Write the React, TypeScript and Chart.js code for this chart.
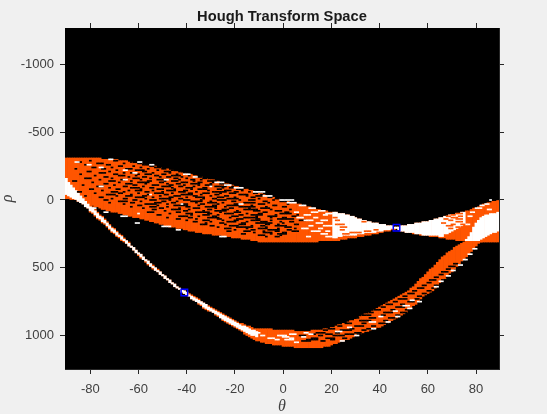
import React, { useEffect, useRef } from "react";
import { Chart, registerables } from "chart.js";

Chart.register(...registerables);

const xTickValues = [-80, -60, -40, -20, 0, 20, 40, 60, 80];
const yTickValues = [-1000, -500, 0, 500, 1000];
const thetaStart = -90;

// Upper band edges, one value per theta column from -90 to 89
const upperTop = [
  -310,-310,-310,-310,-310,-310,-310,-310,-310,-310,
  -310,-310,-310,-310,-310,-300,-300,-300,-300,-300,
  -300,-300,-290,-290,-290,-290,-280,-280,-270,-270,
  -270,-270,-260,-260,-260,-250,-250,-250,-240,-240,
  -230,-230,-230,-220,-220,-210,-210,-210,-200,-200,
  -200,-190,-190,-180,-180,-170,-170,-160,-160,-150,
  -150,-150,-140,-140,-130,-130,-120,-120,-110,-110,
  -100,-100,-90,-90,-80,-80,-70,-70,-60,-60,
  -50,-50,-40,-30,-30,-20,-20,-10,-10,0,
  0,10,10,20,20,20,30,30,40,40,
  50,50,60,60,70,70,80,80,80,90,
  90,90,90,100,100,100,110,110,120,120,
  130,140,140,150,150,160,160,170,170,170,
  180,180,180,190,190,190,200,200,
  200,190,190,190,180,180,180,
  170,170,170,160,160,160,150,
  150,140,140,130,130,120,120,
  110,110,110,100,100,90,90,
  80,80,70,60,60,50,40,
  30,30,20,20,10,10,0,
];
const upperBottom = [
  -10,-10,0,0,0,10,10,20,20,30,
  40,40,50,50,60,70,70,80,80,90,
  90,90,100,100,110,110,120,120,130,130,
  130,140,140,150,150,160,160,170,170,180,
  180,190,190,200,200,200,210,210,210,220,
  220,230,230,230,240,240,240,250,250,250,
  250,260,260,260,260,270,270,270,270,280,
  280,280,280,290,290,290,290,300,300,300,
  310,310,310,310,310,310,310,310,310,310,
  310,310,310,310,310,310,310,310,310,310,
  310,310,310,310,310,300,300,300,300,300,
  300,300,300,300,290,290,290,280,280,280,
  280,270,270,270,260,260,260,250,250,250,
  240,240,230,230,230,220,220,210,
  220,230,230,240,240,240,250,
  250,250,260,260,260,260,270,
  270,270,270,280,280,280,290,
  290,290,290,300,300,300,300,
  310,310,310,310,310,310,310,
  310,310,310,310,310,310,310,
];
// Lower band edges, theta -90 to 89
const lowerTop = [
  -160,-130,-110,-90,-70,-50,-30,-10,10,30,
  40,50,70,90,110,120,140,160,180,200,
  210,230,250,260,280,300,310,340,350,370,
  390,400,420,440,450,470,480,500,510,530,
  550,560,580,590,610,620,640,650,660,670,
  680,690,700,710,720,730,750,760,770,780,
  790,800,810,820,830,840,850,860,870,880,
  890,900,910,910,920,930,930,940,950,950,
  950,950,950,950,950,950,960,960,960,960,
  960,960,960,960,960,970,970,970,970,970,
  970,970,960,960,960,960,960,950,950,950,
  940,940,930,920,920,910,910,900,890,890,
  880,870,860,850,840,840,830,820,810,800,
  790,780,770,760,750,740,730,720,710,700,
  690,680,670,650,640,620,600,580,570,550,
  530,510,500,480,460,440,420,410,390,380,
  370,350,340,330,320,310,300,290,270,240,
  210,190,180,170,160,150,130,120,100,90,
];
const lowerBottom = [
  -40,-30,-20,-10,0,10,20,30,50,60,
  90,100,120,140,150,170,180,200,220,240,
  250,270,280,300,310,320,340,350,370,390,
  410,430,440,460,480,490,510,520,530,550,
  560,580,590,610,620,640,650,660,680,690,
  700,710,730,740,750,770,780,800,810,820,
  820,830,850,860,870,890,900,910,920,930,
  940,950,960,970,990,1000,1010,1020,1030,1040,
  1040,1050,1050,1060,1060,1060,1070,1070,1070,1070,
  1080,1080,1080,1080,1080,1090,1090,1090,1090,1090,
  1090,1090,1090,1090,1090,1090,1090,1080,1080,1080,
  1070,1060,1060,1050,1040,1040,1030,1030,1020,1010,
  1000,1000,990,980,970,970,960,950,950,940,
  940,930,920,910,900,890,880,870,860,850,
  840,830,810,800,780,770,750,730,710,700,
  690,680,670,650,630,610,590,580,560,540,
  530,510,490,470,450,440,420,400,380,360,
  340,320,310,300,290,280,260,250,240,230,
];
// White core of the thin left arm, theta -90 to -11
const armTop = [
  -160,-130,-110,-90,-70,-50,-30,-10,10,30,
  50,60,80,100,120,130,150,170,190,210,
  220,240,260,270,290,300,320,340,350,370,
  390,400,420,440,450,470,490,500,520,530,
  550,560,580,590,610,620,640,650,660,670,
  680,700,710,720,730,740,750,760,770,790,
  800,810,820,830,840,850,860,870,880,890,
  900,910,920,930,930,940,950,960,960,970,
];
const armBottom = [
  -40,-30,-20,-10,0,10,20,30,50,60,
  80,90,110,130,140,160,170,190,210,230,
  240,260,270,290,300,320,340,350,370,390,
  400,420,440,450,470,490,500,520,530,550,
  560,580,590,610,620,640,650,660,680,690,
  700,710,730,740,750,760,770,790,800,810,
  820,830,840,850,870,880,890,900,910,920,
  930,940,950,960,970,980,990,1000,1000,1010,
];
// White wedge around the crossing, theta 21 to 75
const wedgeStart = 21;
const wedgeTop = [
  90,90,100,100,100,110,110,120,120,
  130,140,140,150,150,160,160,170,170,170,
  180,180,180,190,190,190,200,200,
  200,190,190,190,180,180,180,170,170,170,160,160,160,150,
  150,140,140,130,130,120,120,110,110,110,100,100,90,90,
];
const wedgeBottom = [
  280,280,270,270,260,260,260,260,260,
  260,250,250,250,240,240,240,240,240,230,
  230,230,220,220,220,210,210,210,
  220,230,230,240,240,240,240,250,250,250,260,260,260,260,
  260,260,260,270,270,250,250,240,230,220,210,200,190,180,
];
// White diagonal at the far right, theta 76 to 89
const diagStart = 76;
const diagTop = [290,270,240,200,170,150,130,120,110,110,100,100,100,90];
const diagBottom = [300,300,300,300,300,300,290,280,270,260,250,240,240,230];

// Speckle rows: rho, then (theta start, column count) pairs
const blackRows: number[][] = [
  [-290,-80,1,-70,2],[-280,-85,2,-63,1],[-270,-77,3,-66,1,-60,2],[-260,-82,1,-73,2,-58,3,-52,1],
  [-250,-68,2,-62,1,-55,2],[-240,-79,2,-71,1,-59,1,-53,3,-47,1],[-230,-86,1,-75,2,-65,3,-56,1,-50,2],
  [-220,-69,1,-61,4,-52,1,-46,2,-42,1],[-210,-81,2,-72,1,-58,2,-49,3,-43,1],
  [-200,-76,3,-66,1,-63,2,-54,1,-47,1,-41,3],[-190,-84,1,-70,2,-60,1,-57,3,-50,2,-44,1,-37,2],
  [-180,-78,1,-68,3,-61,1,-53,2,-46,4,-39,1,-35,1],[-170,-74,2,-64,1,-58,2,-51,1,-48,2,-42,1,-36,3,-31,1],
  [-160,-82,3,-71,1,-62,3,-55,1,-45,2,-40,1,-33,2,-29,1],[-150,-76,1,-67,2,-59,1,-52,4,-43,1,-38,2,-34,1,-27,2],
  [-140,-87,2,-72,3,-63,1,-56,2,-49,1,-46,3,-37,1,-31,4,-25,1],[-130,-79,1,-68,1,-60,5,-51,2,-42,3,-35,2,-29,1,-23,2],
  [-120,-74,2,-65,3,-57,1,-48,1,-44,2,-38,4,-30,1,-26,2,-20,1],[-110,-83,1,-70,1,-62,2,-54,3,-47,2,-41,1,-35,1,-32,3,-24,2,-18,1],
  [-100,-77,3,-66,2,-58,1,-50,4,-43,2,-37,1,-28,5,-21,1],[-90,-72,1,-63,4,-55,2,-46,1,-40,3,-33,2,-25,1,-22,2,-16,1],
  [-80,-80,2,-69,2,-59,1,-52,3,-45,1,-38,1,-35,4,-27,2,-19,3,-13,1],[-70,-75,1,-64,1,-61,3,-54,1,-48,4,-41,2,-31,1,-24,3,-17,1,-11,2],
  [-60,-85,2,-71,3,-66,1,-57,2,-50,1,-43,3,-36,1,-29,6,-20,2,-14,1],[-50,-78,1,-68,2,-60,1,-53,4,-46,1,-39,2,-33,3,-26,1,-22,3,-12,2,-7,1],
  [-40,-73,4,-63,1,-56,1,-49,2,-42,5,-34,1,-28,2,-18,4,-9,1],[-30,-82,1,-69,1,-65,3,-58,2,-51,1,-45,3,-37,2,-30,1,-24,2,-15,1,-11,3,-5,1],
  [-20,-76,2,-61,4,-54,1,-47,2,-40,1,-36,4,-27,3,-20,1,-13,2,-6,2],[-10,-71,1,-66,2,-57,1,-51,5,-43,2,-33,1,-29,2,-23,5,-10,1,-3,2],
  [0,-74,2,-62,2,-55,3,-47,1,-41,3,-34,1,-27,4,-18,1,-14,3,-4,1],[10,-68,4,-59,1,-50,2,-44,1,-38,5,-30,1,-21,2,-8,2,-1,3],
  [20,-72,1,-63,2,-53,3,-46,2,-36,1,-31,4,-25,1,-16,5,-6,1],[30,-66,1,-57,5,-48,1,-42,3,-34,2,-27,1,-20,3,-10,3,2,1],
  [40,-60,2,-52,1,-45,6,-35,1,-29,2,-23,5,-13,1,-4,2],[50,-63,1,-55,3,-48,1,-40,2,-32,5,-24,1,-18,7,-7,1,0,2],
  [60,-58,1,-51,2,-43,1,-37,3,-28,1,-22,2,-14,1,-9,4],[70,-54,2,-46,4,-39,1,-31,2,-25,3,-16,6,-5,1,3,1],
  [80,-49,1,-41,2,-33,1,-28,5,-19,1,-12,3,-3,3],[90,-56,3,-44,2,-36,6,-26,1,-20,3,-8,2,1,2],
  [100,-47,1,-40,3,-31,2,-24,4,-15,1,-10,2,-1,5],[110,-52,2,-38,1,-33,3,-27,1,-18,2,-13,5,-3,1,6,1],
  [120,-43,4,-35,1,-29,2,-21,3,-11,1,-6,4,4,2],[130,-48,1,-39,2,-31,5,-22,1,-16,6,-5,1,0,2],
  [140,-44,2,-36,1,-27,2,-19,3,-11,2,-2,7],[150,-40,1,-33,3,-25,1,-20,2,-13,4,-5,1,7,3],
  [160,-37,2,-30,1,-23,4,-15,1,-9,3,-1,1,3,2],[170,-32,1,-26,2,-17,2,-11,7,0,1],
  [180,-34,3,-24,1,-18,3,-7,2,-2,1,5,2],[190,-30,2,-22,4,-13,1,-9,2,-3,5],[200,-27,1,-19,7,-7,1,1,3],
  [210,-24,3,-15,1,-10,4,-2,1,5,1],[220,-20,1,-13,2,-6,5,2,2],[230,-23,2,-16,3,-8,1,-3,2,4,3],
  [240,-12,1,-8,4,0,2],[250,-17,2,-5,1,-2,4],[260,-10,3,-1,1],[270,-7,1,-3,2],
  [1040,8,4,16,2],[1030,10,5,20,2],[1020,12,3,18,4,25,2],[1000,7,3,15,2,21,5],
  [990,12,2,18,3,26,4,31,2],[980,14,4,22,2,30,3],[960,17,2,24,5,33,2],[950,19,3,28,2,35,3],
  [930,23,2,30,4,37,2],[910,26,3,33,2,40,4],[890,24,2,32,5,42,2],[870,30,2,36,3,44,3],
  [850,33,4,41,2,47,2],[830,36,2,42,4,49,3],[810,38,3,45,2,51,2],[790,41,2,47,4,54,1],
  [770,43,3,49,2],[750,46,2,52,3],[730,48,4,55,2],[710,50,2,56,2],[690,52,3,58,2],
  [670,54,2,60,2],[650,56,3,62,1],[630,58,2,63,2],[610,60,2,66,1],[590,61,3,66,2],
  [570,63,2,68,2],[550,65,2],[530,66,3],[510,68,2],[490,69,3],[470,71,2],
];
const whiteRows: number[][] = [
  [-300,-72,2],[-280,-86,2,-60,2],[-260,-81,2,-55,2],[-240,-76,2],[-220,-66,2],[-190,-41,3],
  [-170,-37,2],[-130,-28,4],[-110,-24,3],[-90,-20,4],[-60,-12,5],[-30,-8,4],[0,-1,6],
  [20,2,4],[40,7,3],[60,11,3],[80,15,3],[100,18,3],
  [-200,-62,2],[-150,-66,2,-49,2],[-100,-76,2,-30,1],[-40,-55,1],[30,-42,1,-18,2],[100,-60,1],
  [195,-50,4],[220,-44,2],[270,-26,3],[170,-61,2],[120,-67,3],[60,-80,3],[90,-74,2],
  [90,5,2,12,3],[110,9,3,17,2],[130,6,3,13,2],[150,9,4,16,3],[170,14,3],[190,11,2,17,4],[210,8,3,15,2],[230,12,4,18,2],[250,16,3],[270,10,2,18,3],
  [1000,-9,2,-2,4],[1010,0,3,8,2],[1020,-6,3,3,2],[1030,-3,2,1,4],[990,3,3,11,2],[1050,5,2],[980,-12,3,9,2],
  [970,22,3],[940,27,2],[900,36,3],[860,40,2],[820,46,2],[780,50,3],[740,53,2],
  [1040,24,2],[1000,30,2],[950,37,2],[900,43,2],[860,47,2],[800,52,2],[750,56,2],
  [640,63,2],[600,65,2],[560,68,2],[520,70,2],[480,73,2],[440,75,2],[400,77,2],[360,79,2],
  [0,86,1],[30,84,2],[60,80,3],[90,78,2],[120,77,2],[180,76,2],[40,82,2],[70,85,2],
];
const orangeRows: number[][] = [
  [240,28,5],[250,25,3],[230,34,3],[220,38,2],[160,33,2],[180,22,4],[200,24,3],[150,22,2],[130,21,2],[220,24,2],
  [100,72,3],[110,70,2],[120,68,2,73,2],[130,70,3],[140,67,2,72,3],[150,69,2],[160,72,3],
  [170,66,2],[180,70,2,74,2],[190,68,3],[200,72,2],[210,69,2],
];

const peakTheta = [47, -41];
const peakRho = [205, 683];

const toBars = (start: number, top: number[], bottom: number[]) =>
  top.map((t, i) => ({ x: start + i, y: [t, bottom[i]] }));

const toDashes = (rows: number[][]) => {
  const out: { x: number; y: number[] }[] = [];
  for (const row of rows) {
    for (let i = 1; i < row.length; i += 2) {
      for (let c = 0; c < row[i + 1]; c++) {
        out.push({ x: row[i] + c, y: [row[0] - 5, row[0] + 5] });
      }
    }
  }
  return out;
};

const ink = "#262626";
const sans = "'Liberation Sans', Arial, sans-serif";
const serif = "'Liberation Serif', serif";
const orange = "#ff5500";

const sized = (size: number) => (scale: any) => {
  if (scale.isHorizontal()) scale.height = size;
  else scale.width = size;
};
const setTicks = (values: number[]) => (scale: any) => {
  scale.ticks = values.map((value) => ({ value }));
};
const plainLabel = (v: any) => String(v);
const gridOpts = {
  display: true,
  drawOnChartArea: false,
  drawTicks: true,
  tickLength: 5,
  tickColor: ink,
  offset: false,
};
const borderOpts = { display: true, color: ink, width: 1 };

export default function App() {
  const ref = useRef<HTMLCanvasElement | null>(null);
  useEffect(() => {
    if (!ref.current) return;
    const barBase = { type: "bar", grouped: false, barPercentage: 1, categoryPercentage: 1, borderWidth: 0 };
    const dashBase = { ...barBase, inflateAmount: 0.15 };
    const chart = new Chart(ref.current, {
      type: "bar",
      data: {
        // The first dataset is painted last, so it sits on top
        datasets: [
          {
            type: "scatter",
            data: peakTheta.map((x, i) => ({ x, y: peakRho[i] })),
            pointStyle: "rect",
            pointRadius: 4.6,
            borderColor: "#0000ff",
            borderWidth: 1.5,
            backgroundColor: "rgba(0,0,0,0)",
          },
          { ...dashBase, data: toDashes(orangeRows), backgroundColor: orange },
          { ...dashBase, data: toDashes(whiteRows), backgroundColor: "#ffffff" },
          { ...dashBase, data: toDashes(blackRows), backgroundColor: "#000000" },
          { ...barBase, data: toBars(thetaStart, armTop, armBottom), backgroundColor: "#ffffff" },
          { ...barBase, data: toBars(wedgeStart, wedgeTop, wedgeBottom), backgroundColor: "#ffffff" },
          { ...barBase, data: toBars(diagStart, diagTop, diagBottom), backgroundColor: "#ffffff" },
          { ...barBase, data: toBars(thetaStart, lowerTop, lowerBottom), backgroundColor: orange },
          { ...barBase, data: toBars(thetaStart, upperTop, upperBottom), backgroundColor: orange },
        ] as any,
      },
      options: {
        responsive: false,
        animation: false,
        events: [],
        layout: { padding: 0 },
        plugins: { legend: { display: false }, tooltip: { enabled: false }, title: { display: false } },
        scales: {
          x: {
            type: "linear",
            position: "bottom",
            offset: false,
            min: -90.5,
            max: 89.5,
            afterBuildTicks: setTicks(xTickValues),
            afterFit: sized(45),
            grid: gridOpts,
            border: borderOpts,
            ticks: { color: "#404040", font: { family: sans, size: 13 }, padding: 8, maxRotation: 0, autoSkip: false, callback: plainLabel },
            title: { display: true, text: "θ", color: "#404040", font: { family: serif, size: 16, style: "italic" }, padding: { top: 0, bottom: -2 } },
          },
          x2: {
            type: "linear",
            position: "top",
            offset: false,
            min: -90.5,
            max: 89.5,
            afterBuildTicks: setTicks(xTickValues),
            afterFit: sized(28),
            grid: gridOpts,
            border: borderOpts,
            ticks: { display: false },
            title: { display: true, text: "Hough Transform Space", color: "#1a1a1a", font: { family: sans, size: 14.7, weight: "bold" }, padding: { top: 8, bottom: 0 } },
          },
          y: {
            type: "linear",
            position: "left",
            reverse: true,
            min: -1269,
            max: 1247,
            afterBuildTicks: setTicks(yTickValues),
            afterFit: sized(65),
            grid: gridOpts,
            border: borderOpts,
            ticks: { color: "#404040", font: { family: sans, size: 13 }, padding: 6, autoSkip: false, callback: plainLabel },
            title: { display: true, text: "ρ", color: "#404040", font: { family: serif, size: 16, style: "italic" }, padding: { top: -2, bottom: 0 } },
          },
          y2: {
            type: "linear",
            position: "right",
            reverse: true,
            min: -1269,
            max: 1247,
            afterBuildTicks: setTicks(yTickValues),
            afterFit: sized(48),
            grid: gridOpts,
            border: borderOpts,
            ticks: { display: false },
          },
        },
      } as any,
      plugins: [
        {
          id: "blackField",
          beforeDatasetsDraw(c: any) {
            const { ctx, chartArea: a } = c;
            ctx.save();
            ctx.fillStyle = "#000000";
            ctx.fillRect(a.left, a.top, a.right - a.left, a.bottom - a.top);
            ctx.restore();
          },
        },
      ],
    });
    return () => chart.destroy();
  }, []);
  return (
    <div style={{ position: "fixed", left: 0, top: 0, width: 547, height: 414, background: "#f0f0f0" }}>
      <canvas ref={ref} width={547} height={414} style={{ display: "block" }} />
    </div>
  );
}
